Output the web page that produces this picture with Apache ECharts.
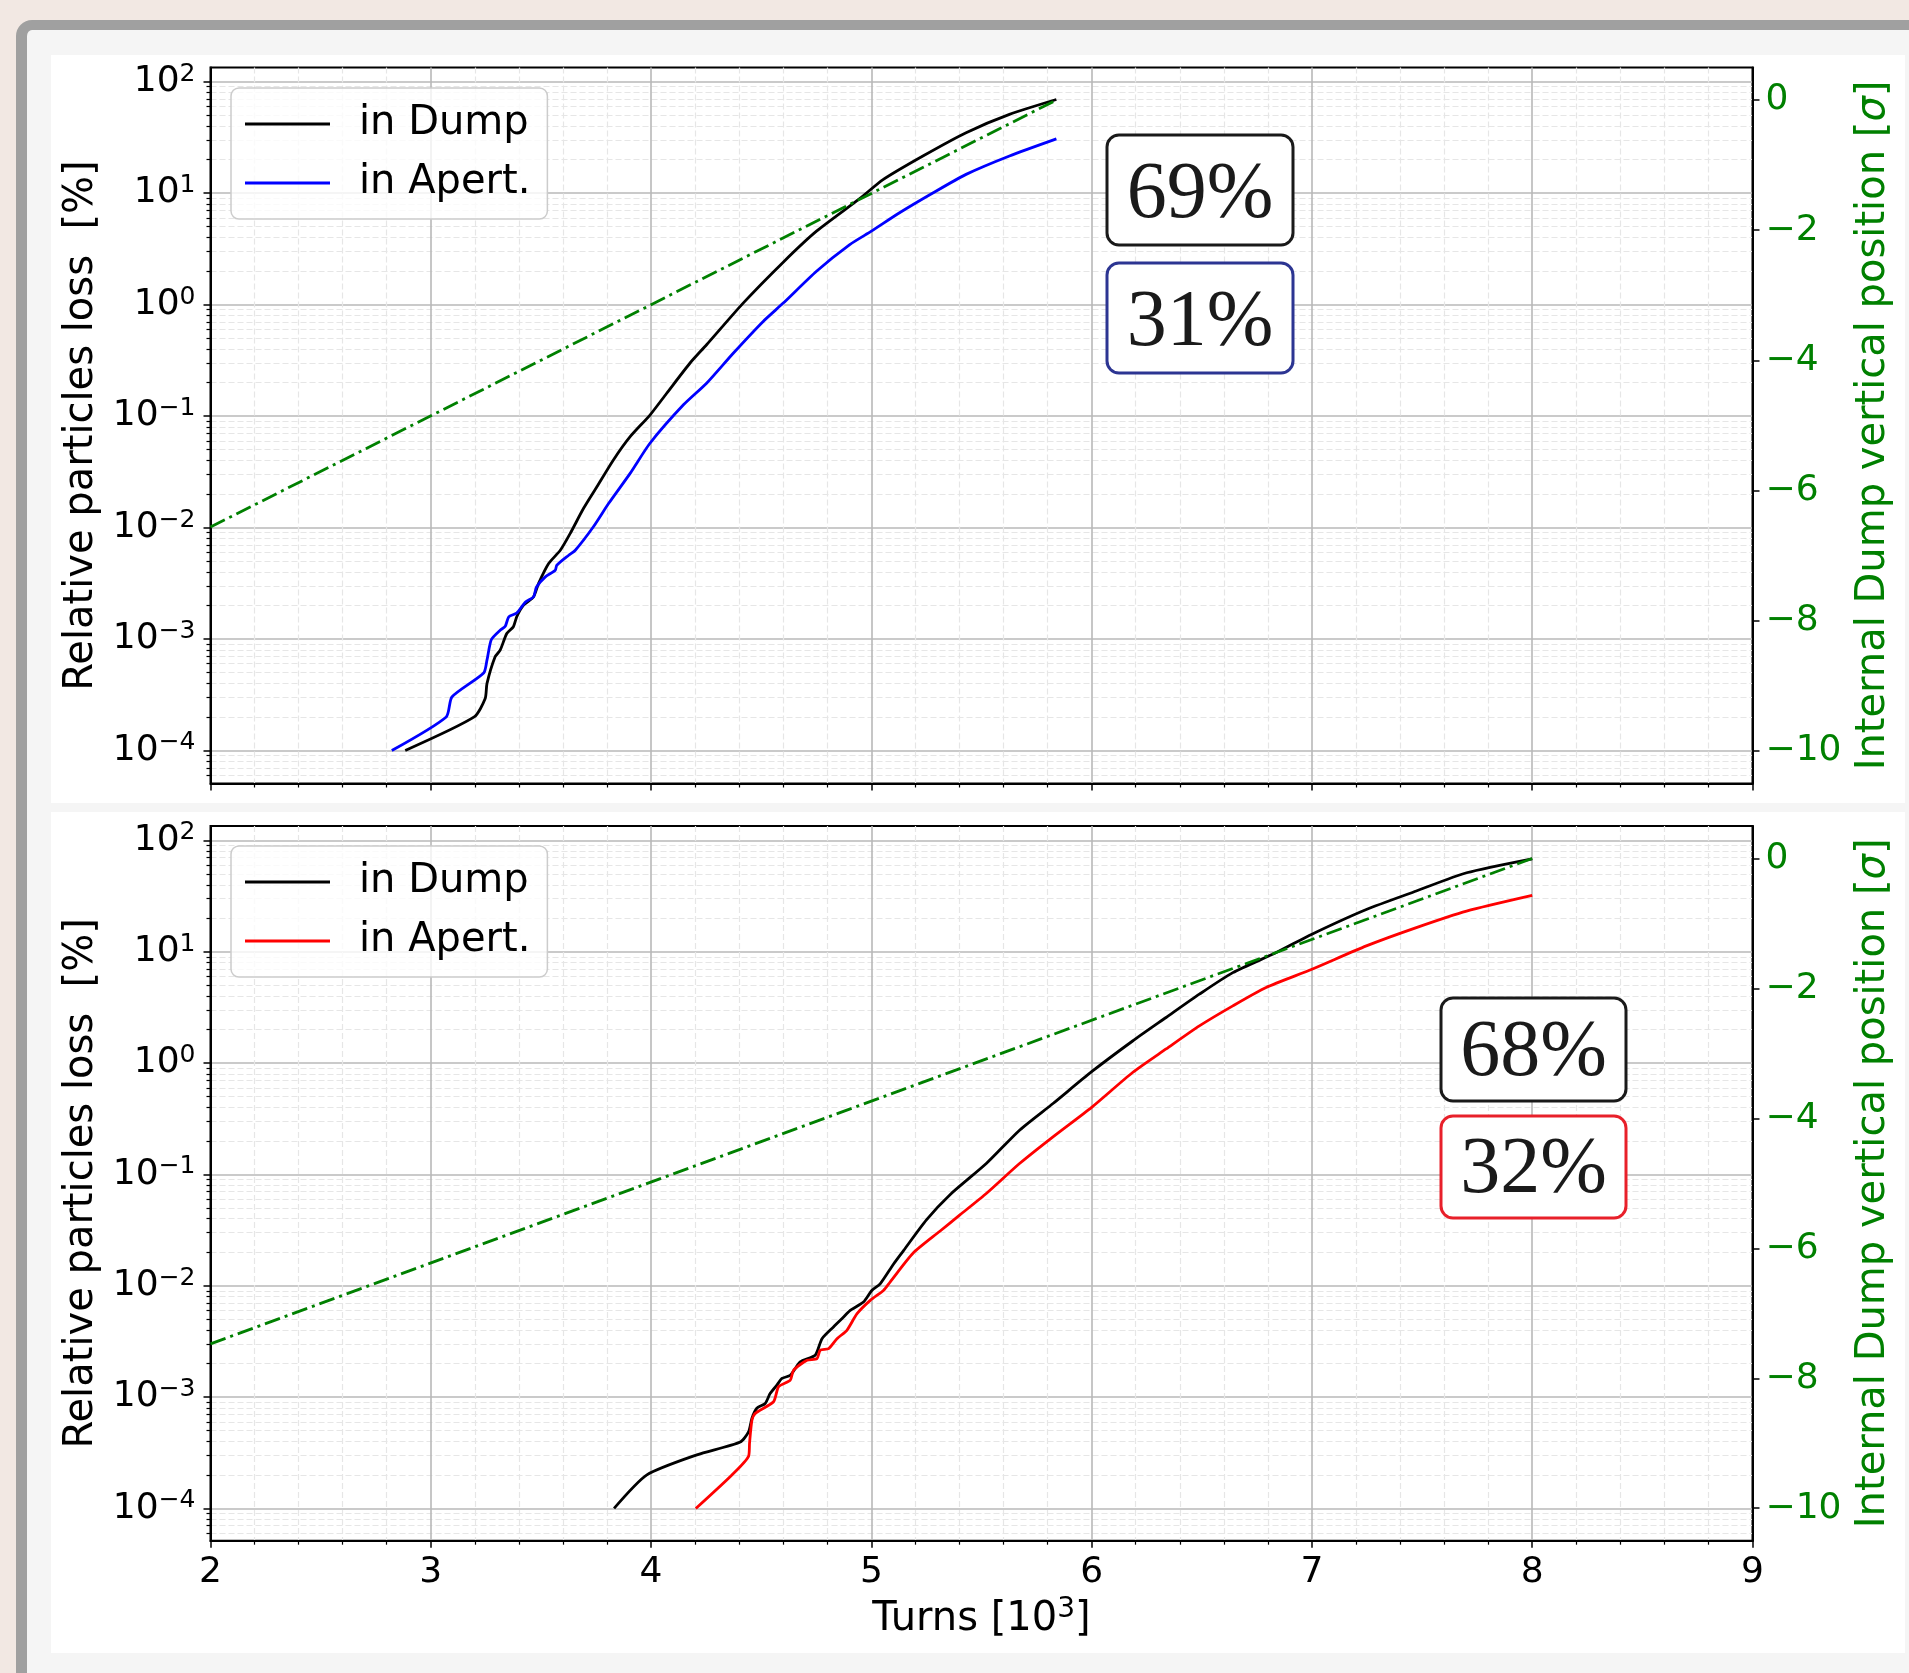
<!DOCTYPE html>
<html><head><meta charset="utf-8">
<script src="https://cdn.jsdelivr.net/npm/echarts@6/dist/echarts.min.js"></script>
<style>
html,body{margin:0;padding:0;width:1909px;height:1673px;overflow:hidden;background:#f2e8e3;}
#card{position:absolute;left:16px;top:20px;width:2000px;height:1800px;box-sizing:border-box;border-left:11px solid #a0a0a0;border-top:10px solid #a0a0a0;border-top-left-radius:16px;background:#f5f5f5;}
.panel{position:absolute;left:51px;width:1854px;background:#fff;}
#p1{top:55px;height:748px;}
#p2{top:812px;height:841px;}
#chart{position:absolute;left:0;top:0;width:1909px;height:1673px;}
</style></head><body>
<div id="card"></div><div class="panel" id="p1"></div><div class="panel" id="p2"></div>
<div id="chart"></div>
<script>
// ---------- data ----------
const xTicks = [2, 3, 4, 5, 6, 7, 8, 9];
const yTickExps = [-4, -3, -2, -1, 0, 1, 2];
const rightTicks = [-10, -8, -6, -4, -2, 0];
const shareLabels = ['69%', '31%', '68%', '32%'];

const topDumpTurns = [2.884,3.197,3.247,3.255,3.292,3.315,3.345,3.375,3.39,3.42,3.466,3.489,3.535,3.588,3.633,3.693,3.754,3.829,3.905,3.995,4.071,4.177,4.252,4.418,4.6,4.751,4.947,5.053,5.234,5.43,5.627,5.84];
const topDumpLoss = [1.00e-4,2.00e-4,2.92e-4,3.98e-4,6.92e-4,7.94e-4,1.12e-3,1.29e-3,1.58e-3,2.00e-3,2.38e-3,3.14e-3,4.75e-3,6.25e-3,8.85e-3,1.48e-2,2.32e-2,4.04e-2,6.53e-2,0.102,0.160,0.299,0.436,1.03,2.40,4.55,8.90,13.2,21.5,34.8,50.8,69.0];

const topApertTurns = [2.823,3.07,3.096,3.24,3.255,3.275,3.315,3.338,3.354,3.39,3.43,3.466,3.48,3.52,3.565,3.572,3.626,3.656,3.739,3.807,3.905,3.995,4.147,4.252,4.373,4.509,4.6,4.751,4.902,5.0,5.128,5.279,5.43,5.627,5.84];
const topApertLoss = [1.00e-4,2.00e-4,3.02e-4,4.95e-4,6.46e-4,9.89e-4,1.20e-3,1.30e-3,1.58e-3,1.71e-3,2.15e-3,2.38e-3,2.93e-3,3.61e-3,4.14e-3,4.59e-3,5.64e-3,6.25e-3,1.02e-2,1.64e-2,3.06e-2,5.70e-2,0.126,0.197,0.366,0.706,1.03,1.99,3.45,4.55,6.65,10.0,14.7,21.5,30.6];

const botDumpTurns = [3.832,3.981,4.208,4.405,4.443,4.458,4.48,4.518,4.541,4.571,4.594,4.632,4.677,4.745,4.776,4.828,4.874,4.904,4.964,5.002,5.04,5.101,5.146,5.25,5.356,5.523,5.674,5.826,6.0,6.186,6.338,6.489,6.641,6.838,7.0,7.247,7.474,7.702,8.0];
const botDumpLoss = [1.00e-4,2.00e-4,3.03e-4,3.95e-4,4.90e-4,6.46e-4,7.94e-4,8.77e-4,1.08e-3,1.28e-3,1.47e-3,1.57e-3,2.07e-3,2.38e-3,3.35e-3,4.27e-3,5.24e-3,6.01e-3,7.14e-3,9.08e-3,1.04e-2,1.57e-2,2.07e-2,3.91e-2,6.55e-2,0.126,0.251,0.436,0.837,1.58,2.57,4.16,6.50,9.84,14.4,24.0,35.2,51.3,68.5];

const botApertTurns = [4.203,4.367,4.443,4.447,4.458,4.473,4.556,4.579,4.632,4.647,4.708,4.753,4.768,4.806,4.844,4.889,4.935,4.995,5.055,5.085,5.189,5.311,5.402,5.523,5.674,5.826,6.0,6.186,6.338,6.489,6.641,6.792,7.0,7.247,7.474,7.702,8.0];
const botApertLoss = [1.00e-4,2.00e-4,2.96e-4,3.85e-4,6.22e-4,7.14e-4,9.08e-4,1.24e-3,1.42e-3,1.75e-3,2.14e-3,2.22e-3,2.64e-3,2.73e-3,3.35e-3,3.98e-3,5.61e-3,7.40e-3,9.08e-3,1.08e-2,1.96e-2,3.09e-2,4.33e-2,6.78e-2,0.126,0.219,0.401,0.824,1.34,2.16,3.27,4.78,6.97,11.3,16.5,23.2,32.1];

const topPosTurns = [2, 5.84];
const topPos = [-6.56, 0];
const botPosTurns = [2, 8];
const botPos = [-7.47, 0];

// ---------- styling helpers ----------
const FONT = 'DejaVu Sans';
const GREEN = '#008000';
const pairs = (xs, ys) => xs.map((x, i) => [x, ys[i]]);
const sup = s => String(s).replace('-', '\u2212');

function xAxisDef(gi, withLabels) {
  const ax = {
    type: 'value', gridIndex: gi, min: xTicks[0], max: xTicks[xTicks.length - 1], interval: 1,
    axisLine: { show: true, onZero: false, lineStyle: { color: '#000', width: 2 } },
    axisTick: { show: true, inside: false, length: 7, lineStyle: { color: '#000', width: 1.5 } },
    minorTick: { show: true, splitNumber: 5, length: 4, lineStyle: { color: '#000', width: 1.2 } },
    splitLine: { show: true, lineStyle: { color: '#b8b8b8', width: 1.6 } },
    minorSplitLine: { show: true, lineStyle: { color: '#e6e6e6', width: 1.2, type: [6, 3] } },
    axisLabel: { show: withLabels, fontSize: 36, color: '#000', fontFamily: FONT, margin: 14 }
  };
  if (withLabels) {
    ax.name = 'Turns [10{s|3}]';
    ax.nameLocation = 'middle';
    ax.nameGap = 55;
    ax.nameTextStyle = { fontSize: 40, color: '#000', fontFamily: FONT, lineHeight: 48,
      rich: { s: { fontSize: 28, lineHeight: 26, verticalAlign: 'top', color: '#000', fontFamily: FONT } } };
  }
  return ax;
}

function yLogDef(gi, lo, hi) {
  const vals = yTickExps.map(e => Math.pow(10, e));
  return {
    type: 'log', logBase: 10, gridIndex: gi, position: 'left',
    min: Math.pow(10, lo), max: Math.pow(10, hi),
    name: 'Relative particles loss  [%]', nameLocation: 'middle', nameGap: 104, nameRotate: 90,
    nameTextStyle: { fontSize: 40, color: '#000', fontFamily: FONT },
    axisLine: { show: true, onZero: false, lineStyle: { color: '#000', width: 2 } },
    axisTick: { show: true, length: 7, customValues: vals, lineStyle: { color: '#000', width: 1.5 } },
    minorTick: { show: true, splitNumber: 9, length: 4, lineStyle: { color: '#000', width: 1.2 } },
    splitLine: { show: true, lineStyle: { color: '#b8b8b8', width: 1.6 } },
    minorSplitLine: { show: true, lineStyle: { color: '#e6e6e6', width: 1.2, type: [6, 3] } },
    axisLabel: {
      show: true, margin: 15, customValues: vals,
      formatter: v => '{b|10}{s|' + sup(Math.round(Math.log10(v))) + '}',
      rich: {
        b: { fontSize: 36, lineHeight: 40, color: '#000', fontFamily: FONT },
        s: { fontSize: 25, lineHeight: 25, verticalAlign: 'top', color: '#000', fontFamily: FONT }
      }
    }
  };
}

function yRightDef(gi) {
  return {
    type: 'value', gridIndex: gi, position: 'right', min: -10.5, max: 0.5,
    name: 'Internal Dump vertical position [{i|\u03c3}]', nameLocation: 'middle', nameGap: 101, nameRotate: 90,
    nameTextStyle: { fontSize: 40, color: GREEN, fontFamily: FONT,
      rich: { i: { fontSize: 40, color: GREEN, fontFamily: FONT, fontStyle: 'italic' } } },
    axisLine: { show: true, onZero: false, lineStyle: { color: '#000', width: 2 } },
    axisTick: { show: true, length: 7, customValues: rightTicks, lineStyle: { color: '#000', width: 1.5 } },
    splitLine: { show: false },
    axisLabel: { show: true, margin: 13, customValues: rightTicks,
      color: GREEN, fontSize: 36, fontFamily: FONT, formatter: v => sup(v) }
  };
}

function legendDef(top, names, colors) {
  return {
    data: names.map((n, i) => ({ name: n, icon: 'rect', itemStyle: { color: colors[i] } })),
    orient: 'vertical', left: 231, top: top,
    itemWidth: 85, itemHeight: 2.8, itemGap: 15, padding: [14, 17, 14, 14],
    backgroundColor: 'rgba(255,255,255,0.8)', borderColor: '#cccccc', borderWidth: 1.5, borderRadius: 8,
    selectedMode: false, formatter: n => n.trim(),
    textStyle: { fontSize: 40, color: '#000', fontFamily: FONT, lineHeight: 44, padding: [0, 0, 0, 24] }
  };
}

function lineSeries(name, xi, yi, data, color, z, dash) {
  return {
    type: 'line', name: name, xAxisIndex: xi, yAxisIndex: yi, data: data,
    symbol: 'none', showSymbol: false, z: z, clip: true,
    smooth: dash ? false : 0.22,
    lineStyle: { color: color, width: 2.8, type: dash || 'solid', join: 'round' },
    itemStyle: { color: color }
  };
}

function box(x, y, w, h, stroke, text, ty) {
  return [
    { type: 'rect', z: 100, shape: { x: x, y: y, width: w, height: h, r: 12 },
      style: { fill: '#ffffff', stroke: stroke, lineWidth: 3 } },
    { type: 'text', z: 101, x: x + w / 2, y: ty,
      style: { text: text, fontSize: 80, fontFamily: 'Liberation Serif', fill: '#1a1a1a',
        align: 'center', verticalAlign: 'middle', textAlign: 'center', textVerticalAlign: 'middle' } }
  ];
}

const chart = echarts.init(document.getElementById('chart'), null, { renderer: 'canvas' });
const dashDot = [16, 5, 3, 5];
chart.setOption({
  animation: false,
  textStyle: { fontFamily: FONT },
  grid: [
    { left: 210.5, top: 67.5, width: 1542, height: 716, show: true, borderColor: '#000', borderWidth: 2, backgroundColor: 'transparent', containLabel: false },
    { left: 210.5, top: 826, width: 1542, height: 714.7, show: true, borderColor: '#000', borderWidth: 2, backgroundColor: 'transparent', containLabel: false }
  ],
  xAxis: [xAxisDef(0, false), xAxisDef(1, true)],
  yAxis: [yLogDef(0, -4.296, 2.126), yRightDef(0), yLogDef(1, -4.29, 2.13), yRightDef(1)],
  legend: [
    legendDef(88, ['in Dump', 'in Apert.'], ['#000000', '#0000ff']),
    legendDef(846, ['in Dump ', 'in Apert. '], ['#000000', '#ff0000'])
  ],
  series: [
    lineSeries('in Dump', 0, 0, pairs(topDumpTurns, topDumpLoss), '#000000', 3),
    lineSeries('in Apert.', 0, 0, pairs(topApertTurns, topApertLoss), '#0000ff', 4),
    lineSeries('pos top', 0, 1, pairs(topPosTurns, topPos), GREEN, 5, dashDot),
    lineSeries('in Dump ', 1, 2, pairs(botDumpTurns, botDumpLoss), '#000000', 3),
    lineSeries('in Apert. ', 1, 2, pairs(botApertTurns, botApertLoss), '#ff0000', 4),
    lineSeries('pos bot', 1, 3, pairs(botPosTurns, botPos), GREEN, 5, dashDot)
  ],
  graphic: [].concat(
    box(1107, 135, 186, 110, '#1a1a1a', shareLabels[0], 196),
    box(1107, 263, 186, 110, '#2c3592', shareLabels[1], 324),
    box(1441, 998, 185, 103, '#1a1a1a', shareLabels[2], 1054),
    box(1441, 1116, 185, 102, '#e8202a', shareLabels[3], 1171)
  )
});
</script></body></html>
